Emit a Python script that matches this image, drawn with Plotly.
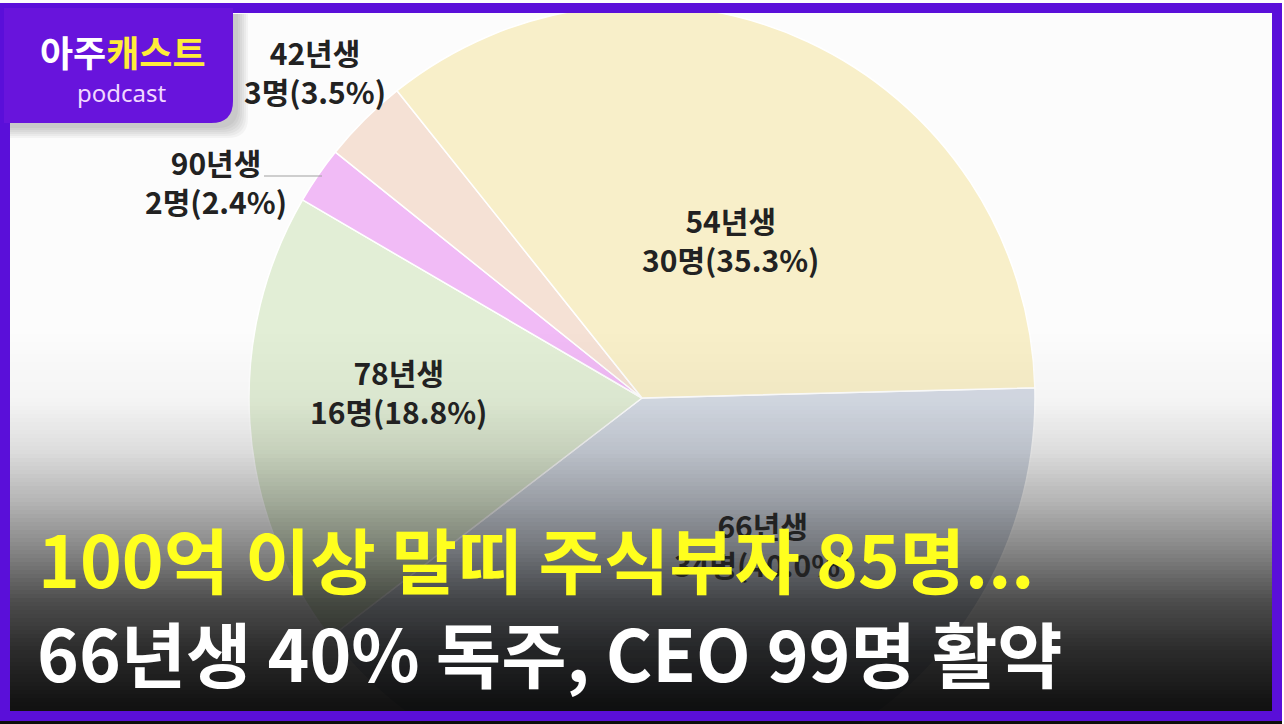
import numpy as np
import plotly.graph_objects as go

# %%
# pie data (clockwise from 3 o'clock)
labels = ['66년생', '78년생', '90년생', '42년생', '54년생']
counts = [34, 16, 2, 3, 30]
colors = ['#d6dce6', '#e2eed6', '#f1bbf6', '#f5e1d5', '#f8efc9']

title_1 = '100억 이상 말띠 주식부자 85명...'
title_2 = '66년생 40% 독주, CEO 99명 활약'

# %%
W, H = 1284, 800      # taller than the window so the pie runs off the bottom
VIEW_H = 724
FONT = 'Noto Sans CJK KR'
cx, cy, R = 642, 398, 393

fig = go.Figure()
fig.add_trace(go.Pie(
    labels=labels,
    values=counts,
    sort=False,
    direction='clockwise',
    rotation=88.5,
    marker=dict(colors=colors, line=dict(color='white', width=1.5)),
    textinfo='none',
    domain=dict(x=[(cx - R) / W, (cx + R) / W],
                y=[(H - cy - R) / H, (H - cy + R) / H]),
    hoverinfo='skip',
    showlegend=False,
))

# slice labels (placed like the original chart)
total = sum(counts)
label_xy = {'54년생': (730, 239), '78년생': (398, 391), '66년생': (762, 544),
            '42년생': (315, 71), '90년생': (216, 181)}
for lab, (x, y) in label_xy.items():
    i = labels.index(lab)
    fig.add_annotation(
        x=x, y=y, xref='x', yref='y', showarrow=False,
        text=f'{lab}<br>{counts[i]}명({counts[i] / total:.1%})',
        font=dict(family=FONT, size=30, color='#222222', weight='bold'),
    )
# leader line for 90년생
fig.add_shape(type='line', x0=264, x1=322, y0=176, y1=176, xref='x', yref='y',
              line=dict(color='#a0a0a0', width=1))

# %%
# dark gradient at the bottom
stops_y = [330, 400, 450, 500, 550, 600, 650, 700, 724]
stops_a = [0.0, 0.03, 0.12, 0.28, 0.47, 0.69, 0.83, 0.92, 0.95]
step = 4
for y0 in range(330, VIEW_H, step):
    a = float(np.interp(y0 + step / 2, stops_y, stops_a))
    fig.add_shape(type='rect', x0=0, x1=W, y0=y0, y1=y0 + step, xref='x', yref='y',
                  fillcolor=f'rgba(0,0,0,{a:.3f})', line_width=0, layer='above')

# purple frame
fig.add_shape(type='rect', x0=5, x1=1277, y0=8, y1=716, xref='x', yref='y',
              line=dict(color='#5a0fd9', width=10), layer='above')
fig.add_shape(type='rect', x0=1282, x1=W, y0=0, y1=VIEW_H, xref='x', yref='y',
              fillcolor='white', line_width=0, layer='above')

# logo box with soft shadow
for k in range(6):
    d = 14 - 2 * k
    fig.add_shape(type='path', xref='x', yref='y', layer='above', line_width=0,
                  fillcolor='rgba(0,0,0,0.035)',
                  path=f'M 10 14 L {234 + d} 14 L {234 + d} {104 + d} '
                       f'Q {234 + d} {124 + d} {214 + d} {124 + d} L 10 {124 + d} Z')
fig.add_shape(type='path', xref='x', yref='y', layer='above', line_width=0,
              fillcolor='#6814dc',
              path='M 4 8 L 233 8 L 233 101 Q 233 123 211 123 L 4 123 Z')
fig.add_annotation(x=123, y=51, xref='x', yref='y', showarrow=False,
                   text='아주<span style="color:#ffec3a">캐스트</span>',
                   font=dict(family=FONT, size=36, color='white', weight='bold'),
                   borderpad=0)
fig.add_annotation(x=122, y=92, xref='x', yref='y', showarrow=False,
                   text='podcast', font=dict(family='Noto Sans', size=24, color='#f1d8ff'),
                   borderpad=0)

# headline
fig.add_annotation(x=37, y=557, xref='x', yref='y', showarrow=False, xanchor='left',
                   text=title_1, borderpad=0,
                   font=dict(family=FONT, size=71, color='#ffff1e', weight='bold'))
fig.add_annotation(x=36, y=651, xref='x', yref='y', showarrow=False, xanchor='left',
                   text=title_2, borderpad=0,
                   font=dict(family=FONT, size=71, color='white', weight='bold'))

fig.update_layout(
    width=W, height=H,
    margin=dict(l=0, r=0, t=0, b=0),
    paper_bgcolor='#fcfcfc',
    plot_bgcolor='rgba(0,0,0,0)',
    xaxis=dict(range=[0, W], visible=False, fixedrange=True),
    yaxis=dict(range=[H, 0], visible=False, fixedrange=True),
)

post = ("document.body.style.margin='0';"
        "document.documentElement.style.overflow='hidden';"
        "var gd=document.getElementById('{plot_id}');"
        "gd.style.height='724px';gd.style.overflow='hidden';")
fig.write_html("out.html", post_script=post, config={'displayModeBar': False})
